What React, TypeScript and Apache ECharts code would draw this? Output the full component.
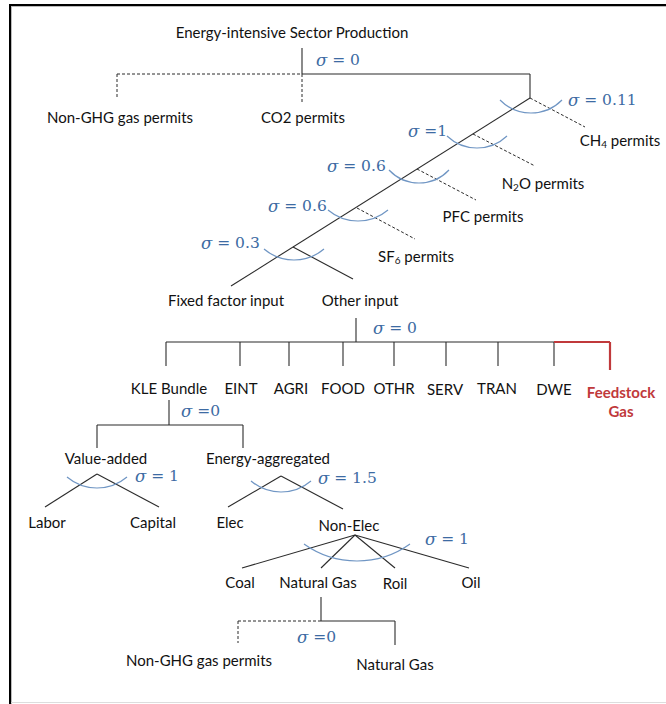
import React, { useEffect, useRef } from "react";
import * as echarts from "echarts";

const W = 666;
const H = 704;

// Node labels: [text, centerX, centerY]
const nodeLabels: [string, number, number][] = [
  ["Energy-intensive Sector Production", 292, 32],
  ["Non-GHG gas permits", 120, 117],
  ["CO2 permits", 303, 117],
  ["{a|CH}{s|4}{a| permits}", 620, 140],
  ["{a|N}{s|2}{a|O permits}", 543, 183],
  ["PFC permits", 483, 216],
  ["{a|SF}{s|6}{a| permits}", 416, 256],
  ["Fixed factor input", 226, 300],
  ["Other input", 360, 300],
  ["KLE Bundle", 169, 388],
  ["EINT", 241, 388],
  ["AGRI", 291, 388],
  ["FOOD", 343, 388],
  ["OTHR", 394, 388],
  ["SERV", 445, 389],
  ["TRAN", 497, 388],
  ["DWE", 554, 389],
  ["Value-added", 106, 458],
  ["Energy-aggregated", 268, 458],
  ["Labor", 47, 522],
  ["Capital", 153, 522],
  ["Elec", 230, 522],
  ["Non-Elec", 349, 525],
  ["Coal", 240, 582],
  ["Natural Gas", 318, 582],
  ["Roil", 395, 583],
  ["Oil", 471, 582],
  ["Non-GHG gas permits", 199, 660],
  ["Natural Gas", 395, 664],
];

// Highlighted node (red)
const redLabels: [string, number, number][] = [["Feedstock\nGas", 621, 401]];

// Elasticity labels: [value text, leftX, centerY]
const sigmaLabels: [string, number, number][] = [
  [" = 0", 316, 60],
  [" = 0.11", 568, 100],
  [" =1", 408, 131],
  [" = 0.6", 327, 166],
  [" = 0.6", 268, 206],
  [" = 0.3", 201, 243],
  [" = 0", 373, 328],
  [" =0", 181, 411],
  [" = 1", 135, 476],
  [" = 1.5", 318, 478],
  [" = 1", 425, 539],
  [" =0", 297, 637],
];

// Solid tree edges: [x1, y1, x2, y2]
const solidEdges: number[][] = [
  [302, 48, 302, 74],
  [302, 74, 530, 74],
  [530, 74, 530, 98],
  [530, 98, 231, 286],
  [293, 247, 353, 279],
  [356, 318, 356, 342],
  [166, 342, 554, 342],
  [166, 342, 166, 366],
  [240, 342, 240, 366],
  [289, 342, 289, 366],
  [343, 342, 343, 366],
  [394, 342, 394, 366],
  [446, 342, 446, 366],
  [498, 342, 498, 366],
  [554, 342, 554, 366],
  [169, 400, 169, 425],
  [97, 425, 243, 425],
  [97, 425, 97, 448],
  [243, 425, 243, 448],
  [97, 474, 45, 507],
  [97, 474, 159, 507],
  [281, 476, 228, 507],
  [281, 476, 343, 509],
  [355, 535, 242, 568],
  [355, 535, 321, 568],
  [355, 535, 395, 568],
  [355, 535, 469, 568],
  [321, 597, 321, 621],
  [321, 621, 395, 621],
  [395, 621, 395, 645],
];

// Dashed (permit) edges
const dashedEdges: number[][] = [
  [117, 74, 302, 74],
  [117, 74, 117, 97],
  [302, 74, 302, 102],
  [530, 98, 585, 127],
  [473, 134, 535, 166],
  [417, 169, 476, 200],
  [357, 208, 415, 239],
  [238, 621, 321, 621],
  [238, 621, 238, 643],
];

// Highlighted edges (red)
const redEdges: number[][] = [
  [554, 342, 610, 342],
  [610, 342, 610, 370],
];

// Elasticity arcs: [centerX, bottomY, halfWidth, depth]
const arcs: number[][] = [
  [531, 113, 31, 13],
  [477, 148, 30, 12],
  [419, 183, 30, 13],
  [358, 221, 30, 11],
  [294, 260, 30, 11],
  [97, 488, 30, 11],
  [281, 492, 30, 11],
  [357, 561, 53, 17],
];

const FONT = "Lato, 'Open Sans', sans-serif";
const SIG_FONT = "'DejaVu Serif', 'Liberation Serif', serif";
const LINE_COLOR = "#2b2b2b";
const TEXT_COLOR = "#111111";
const SIG_COLOR = "#3d6ba3";
const ARC_COLOR = "#7096c4";
const RED = "#c0393b";

function edgeSeries(name: string, data: number[][], style: any) {
  return {
    type: "custom",
    name,
    coordinateSystem: "cartesian2d",
    silent: true,
    clip: false,
    data,
    renderItem: (params: any, api: any) => {
      const p1 = api.coord([api.value(0), api.value(1)]);
      const p2 = api.coord([api.value(2), api.value(3)]);
      return {
        type: "line",
        shape: { x1: p1[0], y1: p1[1], x2: p2[0], y2: p2[1] },
        style,
      };
    },
  };
}

export default function App() {
  const ref = useRef<HTMLDivElement>(null);
  useEffect(() => {
    if (!ref.current) return;
    const chart = echarts.init(ref.current, undefined, { renderer: "svg" });
    const option: any = {
      animation: false,
      backgroundColor: "#ffffff",
      grid: { left: 0, right: 0, top: 0, bottom: 0 },
      xAxis: { type: "value", min: 0, max: W, show: false },
      yAxis: { type: "value", min: 0, max: H, inverse: true, show: false },
      graphic: [
        { type: "line", shape: { x1: 9, y1: 5, x2: W, y2: 5 }, style: { stroke: "#000", lineWidth: 2 } },
        { type: "line", shape: { x1: 10, y1: 4, x2: 10, y2: H }, style: { stroke: "#000", lineWidth: 2 } },
        { type: "line", shape: { x1: 12, y1: 6.5, x2: W, y2: 6.5 }, style: { stroke: "#bbb", lineWidth: 1 } },
        { type: "line", shape: { x1: 11.5, y1: 6, x2: 11.5, y2: H }, style: { stroke: "#bbb", lineWidth: 1 } },
        { type: "line", shape: { x1: 11, y1: 702.5, x2: W, y2: 702.5 }, style: { stroke: "#ddd", lineWidth: 1 } },
      ],
      series: [
        edgeSeries("solid", solidEdges, { stroke: LINE_COLOR, lineWidth: 1.1 }),
        edgeSeries("dashed", dashedEdges, { stroke: LINE_COLOR, lineWidth: 1, lineDash: [3, 2] }),
        edgeSeries("red", redEdges, { stroke: RED, lineWidth: 2.2 }),
        {
          type: "custom",
          name: "arcs",
          coordinateSystem: "cartesian2d",
          silent: true,
          clip: false,
          data: arcs,
          renderItem: (params: any, api: any) => {
            const c = api.coord([api.value(0), api.value(1)]);
            const hw = api.size([api.value(2), 0])[0];
            const d = api.size([0, api.value(3)])[1];
            const r = (hw * hw + d * d) / (2 * d);
            const a = Math.asin(hw / r);
            return {
              type: "arc",
              shape: {
                cx: c[0],
                cy: c[1] - r,
                r,
                startAngle: Math.PI / 2 - a,
                endAngle: Math.PI / 2 + a,
                clockwise: true,
              },
              style: { stroke: ARC_COLOR, lineWidth: 1.2, fill: "none" },
            };
          },
        },
        {
          type: "custom",
          name: "nodes",
          coordinateSystem: "cartesian2d",
          silent: true,
          clip: false,
          data: nodeLabels.map((n) => [n[1], n[2]]),
          renderItem: (params: any, api: any) => {
            const p = api.coord([api.value(0), api.value(1)]);
            const txt = nodeLabels[params.dataIndex][0];
            return {
              type: "text",
              x: p[0],
              y: p[1],
              style: {
                text: txt,
                fill: TEXT_COLOR,
                fontFamily: FONT,
                fontSize: 15,
                lineHeight: 16,
                align: "center",
                verticalAlign: "middle",
                rich: {
                  a: { fontFamily: FONT, fontSize: 15, lineHeight: 16, fill: TEXT_COLOR, color: TEXT_COLOR },
                  s: { fontFamily: FONT, fontSize: 10, lineHeight: 12, fill: TEXT_COLOR, color: TEXT_COLOR, padding: [8, 0, 0, 0] },
                },
              },
            };
          },
        },
        {
          type: "custom",
          name: "highlight",
          coordinateSystem: "cartesian2d",
          silent: true,
          clip: false,
          data: redLabels.map((n) => [n[1], n[2]]),
          renderItem: (params: any, api: any) => {
            const p = api.coord([api.value(0), api.value(1)]);
            return {
              type: "text",
              x: p[0],
              y: p[1],
              style: {
                text: redLabels[params.dataIndex][0],
                fill: RED,
                fontFamily: FONT,
                fontWeight: "bold",
                fontSize: 15,
                lineHeight: 19,
                align: "center",
                verticalAlign: "middle",
              },
            };
          },
        },
        {
          type: "custom",
          name: "sigma",
          coordinateSystem: "cartesian2d",
          silent: true,
          clip: false,
          data: sigmaLabels.map((n) => [n[1], n[2]]),
          renderItem: (params: any, api: any) => {
            const p = api.coord([api.value(0), api.value(1)]);
            return {
              type: "text",
              x: p[0],
              y: p[1],
              style: {
                text: "{g|σ}{v|" + sigmaLabels[params.dataIndex][0] + "}",
                fill: SIG_COLOR,
                align: "left",
                verticalAlign: "middle",
                rich: {
                  g: { fontFamily: SIG_FONT, fontStyle: "italic", fontSize: 16.5, lineHeight: 15, fill: SIG_COLOR, color: SIG_COLOR },
                  v: { fontFamily: SIG_FONT, fontSize: 15.5, lineHeight: 15, fill: SIG_COLOR, color: SIG_COLOR },
                },
              },
            };
          },
        },
      ],
    };
    chart.setOption(option);
    return () => chart.dispose();
  }, []);
  return (
    <div
      ref={ref}
      style={{ position: "fixed", left: 0, top: 0, width: W, height: H, background: "#fff" }}
    />
  );
}
